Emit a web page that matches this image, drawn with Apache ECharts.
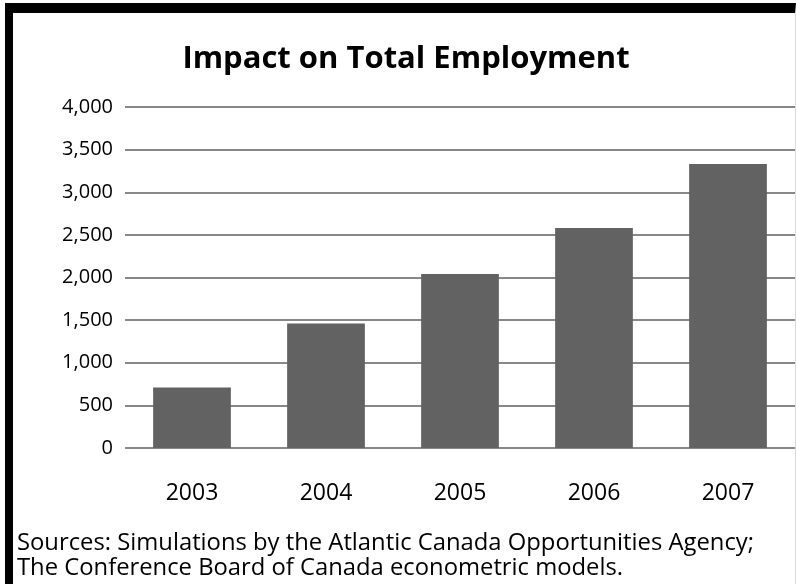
<!DOCTYPE html>
<html>
<head>
<meta charset="utf-8">
<script src="https://cdn.jsdelivr.net/npm/echarts@6/dist/echarts.min.js"></script>
<style>
html, body { margin: 0; padding: 0; background: #fff; }
#chart { position: absolute; left: 0; top: 0; width: 796px; height: 584px; }
.frame {
    position: absolute; left: 5px; top: 3px; width: 782px; height: 571px;
    border-left: 8px solid #000; border-top: 10px solid #000;
    border-right: 1px solid #d9d9d9; border-bottom: 1px solid #d9d9d9;
    pointer-events: none;
}
</style>
</head>
<body>
<div id="chart"></div>
<div class="frame"></div>
<script>
var years = ['2003', '2004', '2005', '2006', '2007'];
var employment = [710, 1460, 2040, 2580, 3330];
var yTicks = [0, 500, 1000, 1500, 2000, 2500, 3000, 3500, 4000];
var titleText = 'Impact on Total Employment';
var sourceLines = [
    'Sources: Simulations by the Atlantic Canada Opportunities Agency;',
    'The Conference Board of Canada econometric models.'
];

var font = '"Open Sans", "Liberation Sans", sans-serif';

var chart = echarts.init(document.getElementById('chart'));

var option = {
    animation: false,
    title: {
        text: titleText,
        left: 401,
        textAlign: 'center',
        top: 39,
        textStyle: { fontFamily: font, fontWeight: 'bold', fontSize: 31, color: '#000' }
    },
    graphic: [{
        type: 'text',
        left: 17,
        top: 531,
        style: {
            text: sourceLines.join('\n'),
            font: '23.8px ' + font,
            lineHeight: 25,
            fill: '#000'
        }
    }],
    grid: { left: 125, right: 1, top: 107, bottom: 136, containLabel: false },
    xAxis: {
        type: 'category',
        data: years,
        axisLine: { show: false },
        axisTick: { show: false },
        axisLabel: { fontFamily: font, fontSize: 23, color: '#000', margin: 34 }
    },
    yAxis: {
        type: 'value',
        min: yTicks[0],
        max: yTicks[yTicks.length - 1],
        interval: 500,
        axisLine: { show: false },
        axisTick: { show: false },
        axisLabel: {
            fontFamily: font, fontSize: 20, color: '#000', margin: 12,
            formatter: function (v) { return v.toLocaleString('en-US'); }
        },
        splitLine: { lineStyle: { color: '#888', width: 2 } }
    },
    series: [{
        type: 'bar',
        data: employment,
        barWidth: '58%',
        itemStyle: { color: '#626262' }
    }]
};

chart.setOption(option);
</script>
</body>
</html>
